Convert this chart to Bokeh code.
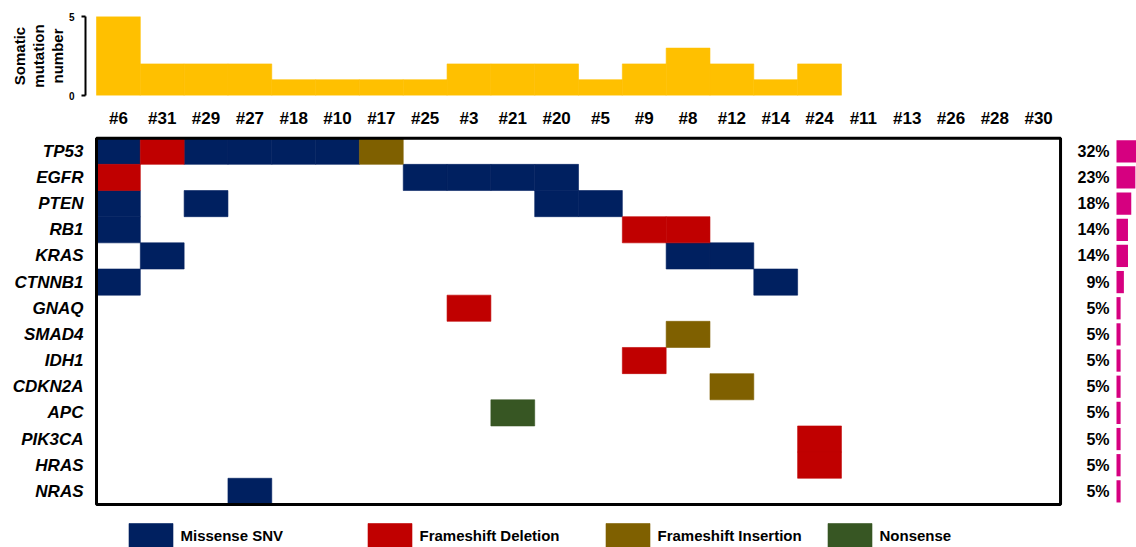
from bokeh.plotting import figure
from bokeh.layouts import column
from bokeh.models import ColumnDataSource, Range1d, FixedTicker, Legend, LegendItem, Title
from bokeh.core.properties import value
from bokeh.embed import file_html
from bokeh.resources import INLINE

# ---- data -------------------------------------------------------------
samples = ["#6", "#31", "#29", "#27", "#18", "#10", "#17", "#25", "#3", "#21", "#20",
           "#5", "#9", "#8", "#12", "#14", "#24", "#11", "#13", "#26", "#28", "#30"]
mutation_counts = [5, 2, 2, 2, 1, 1, 1, 1, 2, 2, 2, 1, 2, 3, 2, 1, 2, 0, 0, 0, 0, 0]

genes = ["TP53", "EGFR", "PTEN", "RB1", "KRAS", "CTNNB1", "GNAQ", "SMAD4",
         "IDH1", "CDKN2A", "APC", "PIK3CA", "HRAS", "NRAS"]
gene_freq_pct = [32, 23, 18, 14, 14, 9, 5, 5, 5, 5, 5, 5, 5, 5]

mutation_types = ["Missense SNV", "Frameshift Deletion", "Frameshift Insertion", "Nonsense"]
type_colors = ["#002060", "#C00000", "#7F6000", "#375623"]

mut_gene = ["TP53", "TP53", "TP53", "TP53", "TP53", "TP53", "TP53",
            "EGFR", "EGFR", "EGFR", "EGFR", "EGFR",
            "PTEN", "PTEN", "PTEN", "PTEN",
            "RB1", "RB1", "RB1",
            "KRAS", "KRAS", "KRAS",
            "CTNNB1", "CTNNB1",
            "GNAQ", "SMAD4", "IDH1", "CDKN2A", "APC", "PIK3CA", "HRAS", "NRAS"]
mut_sample = ["#6", "#31", "#29", "#27", "#18", "#10", "#17",
              "#6", "#25", "#3", "#21", "#20",
              "#6", "#29", "#20", "#5",
              "#6", "#9", "#8",
              "#31", "#8", "#12",
              "#6", "#14",
              "#3", "#8", "#9", "#12", "#21", "#24", "#24", "#27"]
mut_type = ["Missense SNV", "Frameshift Deletion", "Missense SNV", "Missense SNV",
            "Missense SNV", "Missense SNV", "Frameshift Insertion",
            "Frameshift Deletion", "Missense SNV", "Missense SNV", "Missense SNV", "Missense SNV",
            "Missense SNV", "Missense SNV", "Missense SNV", "Missense SNV",
            "Missense SNV", "Frameshift Deletion", "Frameshift Deletion",
            "Missense SNV", "Missense SNV", "Missense SNV",
            "Missense SNV", "Missense SNV",
            "Frameshift Deletion", "Frameshift Insertion", "Frameshift Deletion",
            "Frameshift Insertion", "Nonsense", "Frameshift Deletion", "Frameshift Deletion",
            "Missense SNV"]

count_axis_title = ["Somatic", "mutation", "number"]

# ---- layout constants -------------------------------------------------
FONT = "Liberation Sans"
W = 1136
COL_PX = 43.82      # width of one sample column in pixels
ROW_PX = 26.16      # height of one gene row in pixels
PCT_PX = 0.82       # pixels per percent for the frequency bars
FRAME_LEFT = 85     # both panels share this left frame edge (count axis sits here)
GRID_LEFT = 96      # left edge of the first sample column
PCT_LEFT = 1116

n_s = len(samples)
n_g = len(genes)
s_idx = list(range(n_s))
g_idx = list(range(n_g))

x_start = -0.5 - (GRID_LEFT - FRAME_LEFT) / COL_PX
x_end = -0.5 + (W - GRID_LEFT) / COL_PX

# ---- top panel: mutation count per sample ---------------------------------
top = figure(width=W, height=130, output_backend="svg", toolbar_location=None,
             x_range=Range1d(x_start, x_end), y_range=Range1d(0, 5),
             min_border_left=FRAME_LEFT, min_border_right=0, min_border_top=16,
             min_border_bottom=34)
bar_src = ColumnDataSource(dict(x=s_idx, top=mutation_counts,
                                edge=[1.0 if c > 0 else 0.0 for c in mutation_counts]))
top.vbar(x="x", top="top", width=1, source=bar_src, fill_color="#FFC000",
         line_color="#FFC000", line_alpha="edge", line_width=0.6)
top.grid.visible = False
top.outline_line_color = None

ya = top.yaxis[0]
ya.ticker = FixedTicker(ticks=[0, 5])
ya.axis_line_width = 2
ya.axis_line_color = "black"
ya.major_tick_line_width = 2
ya.major_tick_line_color = "black"
ya.major_tick_out = 4
ya.major_tick_in = 0
ya.minor_tick_line_color = None
ya.major_label_text_font = FONT
ya.major_label_text_font_style = "bold"
ya.major_label_text_font_size = "10px"
ya.major_label_text_color = "black"
ya.major_label_standoff = 7

# stacked outward from the axis: "number", "mutation", "Somatic"
for line in reversed(count_axis_title):
    top.add_layout(Title(text=line, align="center", standoff=0,
                         text_font=FONT, text_font_style="bold", text_font_size="15px",
                         text_color="black"), "left")

xa = top.xaxis[0]
xa.ticker = FixedTicker(ticks=s_idx)
xa.major_label_overrides = {i: s for i, s in zip(s_idx, samples)}
xa.axis_line_color = None
xa.major_tick_line_color = None
xa.minor_tick_line_color = None
xa.major_label_text_font = FONT
xa.major_label_text_font_style = "bold"
xa.major_label_text_font_size = "17px"
xa.major_label_text_color = "black"
xa.major_label_standoff = 7

# ---- main panel: mutation matrix --------------------------------------
mid = figure(width=W, height=417, output_backend="svg", toolbar_location=None,
             x_range=Range1d(x_start, x_end),
             y_range=Range1d(-0.5 + (547 - 137.7) / ROW_PX, -0.5 - (137.7 - 130) / ROW_PX),
             x_axis_location=None,
             min_border_left=FRAME_LEFT, min_border_right=0, min_border_top=0,
             min_border_bottom=0)
mid.extra_x_ranges = {"pct": Range1d(-(PCT_LEFT - FRAME_LEFT) / PCT_PX, (W - PCT_LEFT) / PCT_PX)}
mid.grid.visible = False
mid.outline_line_color = None

type_renderers = []
for t, color in zip(mutation_types, type_colors):
    xs = [samples.index(s) for s, tt in zip(mut_sample, mut_type) if tt == t]
    ys = [genes.index(g) for g, tt in zip(mut_gene, mut_type) if tt == t]
    src = ColumnDataSource(dict(x=xs, y=ys))
    r = mid.rect(x="x", y="y", width=1, height=1, source=src,
                 fill_color=color, line_color=color, line_width=0.6)
    type_renderers.append(r)

# frame around the matrix
mid.quad(left=-0.5, right=n_s - 0.5, top=-0.5, bottom=n_g - 0.5,
         fill_color=None, line_color="black", line_width=3)

# gene frequency bars and labels
mid.hbar(y=g_idx, left=0, right=gene_freq_pct, height=0.85, x_range_name="pct",
         fill_color="#D60080", line_color=None)
mid.text(x=[0] * n_g, y=g_idx, text=[f"{v}%" for v in gene_freq_pct], x_range_name="pct",
         x_offset=-7, text_align="right", text_baseline="middle",
         text_font=value(FONT), text_font_style="bold", text_font_size="16px",
         text_color="black")

ga = mid.yaxis[0]
ga.ticker = FixedTicker(ticks=g_idx)
ga.major_label_overrides = {i: g for i, g in zip(g_idx, genes)}
ga.axis_line_color = None
ga.major_tick_line_color = None
ga.major_tick_out = 0
ga.major_tick_in = 0
ga.minor_tick_line_color = None
ga.minor_tick_out = 0
ga.major_label_text_font = FONT
ga.major_label_text_font_style = "bold italic"
ga.major_label_text_font_size = "17px"
ga.major_label_text_color = "black"
ga.major_label_standoff = 2

# one legend box per mutation type, laid out along the bottom
legend_left = [128, 367, 605, 827]
for label, r, left in zip(mutation_types, type_renderers, legend_left):
    leg = Legend(items=[LegendItem(label=label, renderers=[r])],
                 location=(left - 5.5 - FRAME_LEFT, -3), orientation="horizontal",
                 glyph_width=55, glyph_height=30, label_standoff=3,
                 padding=0, margin=0, border_line_color=None, background_fill_alpha=0,
                 label_text_font=FONT, label_text_font_style="bold",
                 label_text_font_size="15px", label_text_color="black")
    mid.add_layout(leg)

layout = column(top, mid, spacing=0)
open("out.html", "w").write(file_html(layout, INLINE))
